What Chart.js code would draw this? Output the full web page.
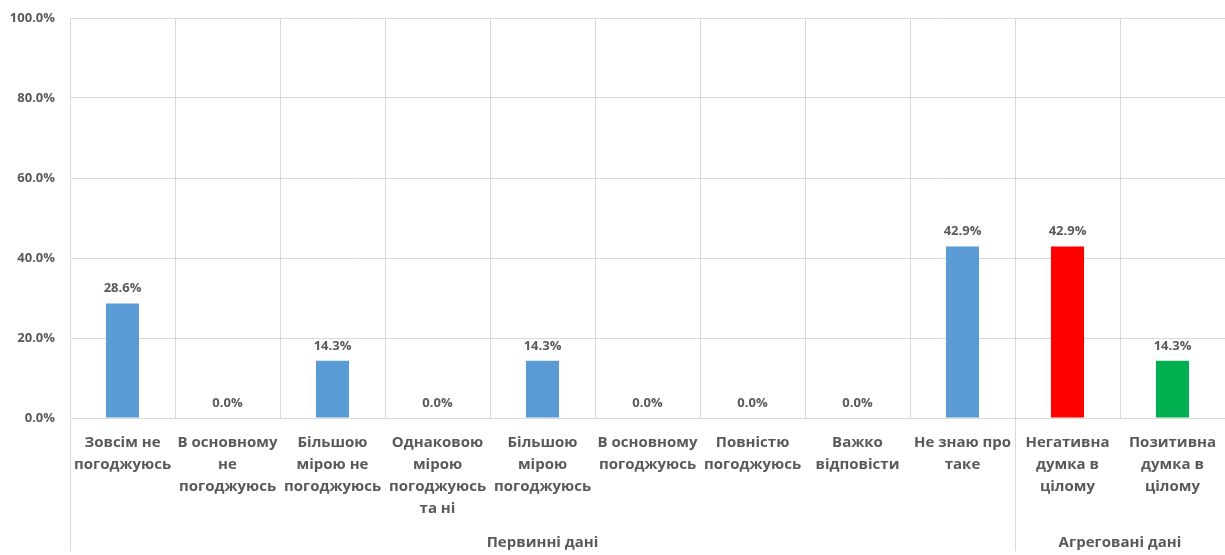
<!DOCTYPE html>
<html><head><meta charset="utf-8">
<script src="https://cdn.jsdelivr.net/npm/chart.js@4/dist/chart.umd.min.js"></script>
<style>html,body{margin:0;padding:0;background:#fff}#wrap{width:1225px;height:555px}</style>
</head><body><div id="wrap"><canvas id="c"></canvas></div>
<script>
const categories = [
  ["Зовсім не","погоджуюсь"],
  ["В основному","не","погоджуюсь"],
  ["Більшою","мірою не","погоджуюсь"],
  ["Однаковою","мірою","погоджуюсь","та ні"],
  ["Більшою","мірою","погоджуюсь"],
  ["В основному","погоджуюсь"],
  ["Повністю","погоджуюсь"],
  ["Важко","відповісти"],
  ["Не знаю про","таке"],
  ["Негативна","думка в","цілому"],
  ["Позитивна","думка в","цілому"]
];
const values = [28.6, 0.0, 14.3, 0.0, 14.3, 0.0, 0.0, 0.0, 42.9, 42.9, 14.3];
const barColors = ["#5B9BD5","#5B9BD5","#5B9BD5","#5B9BD5","#5B9BD5","#5B9BD5","#5B9BD5","#5B9BD5","#5B9BD5","#FF0000","#00B050"];
const groups = [
  {label: "Первинні дані", from: 0, to: 8},
  {label: "Агреговані дані", from: 9, to: 10}
];
const yTicks = [0, 20, 40, 60, 80, 100];

const TXT = "#595959";
const GRID = "#d9d9d9";
const FONT = "'Open Sans', sans-serif";

const drawPlugin = {
  id: 'custom',
  afterDatasetsDraw(chart) {
    const ctx = chart.ctx;
    const meta = chart.getDatasetMeta(0);
    ctx.save();
    ctx.fillStyle = TXT;
    ctx.font = "bold 13px " + FONT;
    ctx.textAlign = "center";
    ctx.textBaseline = "middle";
    meta.data.forEach((bar, i) => {
      ctx.fillText(values[i].toFixed(1) + "%", bar.x, bar.y - 15);
    });
    ctx.restore();
  },
  afterDraw(chart) {
    const ctx = chart.ctx;
    const xs = chart.scales.x;
    const area = chart.chartArea;
    const half = (xs.getPixelForValue(1) - xs.getPixelForValue(0)) / 2;
    ctx.save();
    ctx.fillStyle = TXT;
    ctx.font = "bold 15px " + FONT;
    ctx.textAlign = "center";
    ctx.textBaseline = "middle";
    categories.forEach((lines, i) => {
      const x = xs.getPixelForValue(i);
      lines.forEach((ln, k) => ctx.fillText(ln, x, area.bottom + 25 + k * 22));
    });
    ctx.strokeStyle = GRID;
    ctx.lineWidth = 1;
    const bottom = chart.height - 4;
    ctx.beginPath();
    ctx.moveTo(Math.round(area.left) + 0.5, area.bottom);
    ctx.lineTo(Math.round(area.left) + 0.5, bottom);
    groups.forEach(g => {
      const xr = xs.getPixelForValue(g.to) + half;
      ctx.moveTo(Math.round(xr) + 0.5, area.bottom);
      ctx.lineTo(Math.round(xr) + 0.5, bottom);
    });
    ctx.stroke();
    groups.forEach(g => {
      const xl = xs.getPixelForValue(g.from) - half;
      const xr = xs.getPixelForValue(g.to) + half;
      ctx.fillText(g.label, (xl + xr) / 2, 543);
    });
    ctx.restore();
  }
};

new Chart(document.getElementById('c'), {
  type: 'bar',
  data: {
    labels: categories,
    datasets: [{
      data: values,
      backgroundColor: barColors,
      barPercentage: 0.315,
      categoryPercentage: 1.0
    }]
  },
  options: {
    responsive: true,
    maintainAspectRatio: false,
    animation: false,
    layout: { padding: { top: 18, right: 0, bottom: 0, left: 0 } },
    plugins: { legend: { display: false }, tooltip: { enabled: false } },
    scales: {
      x: {
        grid: { display: true, offset: true, color: GRID, drawTicks: false },
        border: { display: true, color: GRID },
        ticks: { display: false },
        afterFit(scale) { scale.height = 137; scale.paddingLeft = 0; scale.paddingRight = 0; }
      },
      y: {
        min: 0, max: 100,
        afterBuildTicks(scale) { scale.ticks = yTicks.map(v => ({ value: v })); },
        grid: { color: GRID, drawTicks: false },
        border: { display: true, color: GRID },
        ticks: {
          padding: 15,
          color: TXT,
          font: { family: FONT, size: 13, weight: 'bold' },
          callback: v => Number(v).toFixed(1) + "%"
        },
        afterFit(scale) { scale.width = 70; scale.paddingTop = 0; scale.paddingBottom = 0; }
      }
    }
  },
  plugins: [drawPlugin]
});
</script>
</body></html>
